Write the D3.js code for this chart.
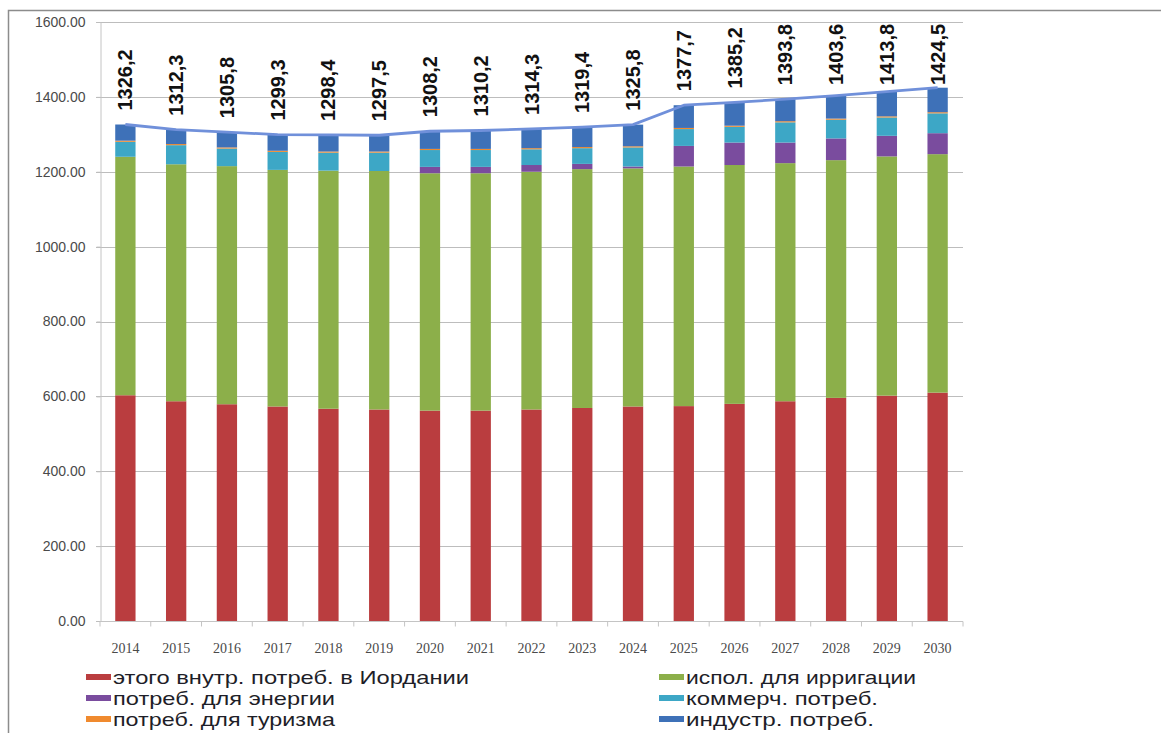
<!DOCTYPE html>
<html>
<head>
<meta charset="utf-8">
<script src="https://cdn.jsdelivr.net/npm/d3@7"></script>
<style>
  html, body { margin: 0; padding: 0; background: #fff; }
  svg { display: block; }
</style>
</head>
<body>
<svg id="chart" width="1161" height="733"></svg>
<script>
// Water demand in Jordan by sector, 2014–2030 (million m³)
const years = ["2014","2015","2016","2017","2018","2019","2020","2021","2022","2023","2024","2025","2026","2027","2028","2029","2030"];

const domestic   = [603, 587, 579, 573, 567, 565, 562, 562, 565, 569, 573, 574, 580, 587, 596, 602, 610];
const irrigation = [637, 633, 636, 632, 636, 637, 634, 634, 635, 638, 636, 640, 638, 636, 635, 639, 637];
const energy     = [0, 0, 0, 0, 0, 0, 17, 17, 18, 14, 5, 55, 60, 55, 58, 55, 56];
const commercial = [40, 51, 47, 48, 48, 49, 45, 45, 42, 42, 51, 45, 42, 54, 50, 49, 53];
const tourism    = [3, 3, 3, 3, 3, 3, 3, 3, 3, 3, 3, 3, 3, 3, 3, 3, 3];
const industrial = [43.2, 38.3, 40.8, 43.3, 44.4, 43.5, 47.2, 49.2, 51.3, 53.4, 57.8, 60.7, 62.2, 58.8, 61.6, 65.8, 65.5];
const totals     = [1326.2, 1312.3, 1305.8, 1299.3, 1298.4, 1297.5, 1308.2, 1310.2, 1314.3, 1319.4, 1325.8, 1377.7, 1385.2, 1393.8, 1403.6, 1413.8, 1424.5];

const yTicks = [0, 200, 400, 600, 800, 1000, 1200, 1400, 1600];

const seriesKeys   = ["domestic", "irrigation", "energy", "commercial", "tourism", "industrial"];
const seriesNames  = {
  domestic:   "этого внутр. потреб. в Иордании",
  irrigation: "испол. для ирригации",
  energy:     "потреб. для энергии",
  commercial: "коммерч. потреб.",
  tourism:    "потреб. для туризма",
  industrial: "индустр. потреб."
};
const seriesColors = {
  domestic:   "#BA3D3F",
  irrigation: "#8CAF4A",
  energy:     "#7A4C9E",
  commercial: "#3DA7C6",
  tourism:    "#F08A2E",
  industrial: "#3E71B8"
};

const rows = years.map((yr, i) => ({
  year: yr,
  domestic: domestic[i],
  irrigation: irrigation[i],
  energy: energy[i],
  commercial: commercial[i],
  tourism: tourism[i],
  industrial: industrial[i],
  total: totals[i]
}));

const svg = d3.select("#chart");

// outer frame
svg.append("rect")
  .attr("x", 8.5).attr("y", 10.5)
  .attr("width", 1300).attr("height", 900)
  .attr("fill", "none").attr("stroke", "#8c8c8c").attr("stroke-width", 1.5);

const plot = { left: 100, right: 963, top: 22, bottom: 621 };

const x = d3.scaleBand()
  .domain(years)
  .range([plot.left, plot.right])
  .paddingInner(0.6)
  .paddingOuter(0.3);

const y = d3.scaleLinear()
  .domain([0, 1600])
  .range([plot.bottom, plot.top]);

// horizontal grid lines
svg.append("g")
  .selectAll("line")
  .data(yTicks)
  .join("line")
  .attr("x1", plot.left - 4).attr("x2", plot.right)
  .attr("y1", d => Math.round(y(d)) + 0.5).attr("y2", d => Math.round(y(d)) + 0.5)
  .attr("stroke", "#bdbdbd").attr("stroke-width", 1);

// y axis
const yAxis = svg.append("g")
  .attr("transform", `translate(${plot.left + 0.5},0)`)
  .call(d3.axisLeft(y).tickValues(yTicks).tickFormat(d3.format(".2f")).tickSize(4).tickPadding(11));
yAxis.select(".domain").attr("stroke", "#c4c4c4");
yAxis.selectAll(".tick line").attr("stroke", "#bdbdbd");
yAxis.selectAll(".tick text")
  .attr("fill", "#4a4a4a")
  .style("font-family", "Arial, 'Liberation Sans', sans-serif")
  .style("font-size", "14px");

// stacked bars
const stack = d3.stack().keys(seriesKeys);
const layers = stack(rows);

svg.append("g")
  .selectAll("g")
  .data(layers)
  .join("g")
  .attr("fill", d => seriesColors[d.key])
  .selectAll("rect")
  .data(d => d)
  .join("rect")
  .attr("x", d => x(d.data.year))
  .attr("width", x.bandwidth())
  .attr("y", d => y(d[1]))
  .attr("height", d => Math.max(0, y(d[0]) - y(d[1])));

// x axis with ticks between categories
const xAxisG = svg.append("g").attr("transform", `translate(0,${plot.bottom + 0.5})`);
xAxisG.append("line")
  .attr("x1", plot.left).attr("x2", plot.right)
  .attr("stroke", "#c4c4c4");
xAxisG.selectAll("line.tk")
  .data(d3.range(years.length + 1))
  .join("line")
  .attr("class", "tk")
  .attr("x1", i => plot.left + i * x.step())
  .attr("x2", i => plot.left + i * x.step())
  .attr("y1", 0).attr("y2", 5)
  .attr("stroke", "#c4c4c4");
xAxisG.selectAll("text")
  .data(years)
  .join("text")
  .attr("x", d => x(d) + x.bandwidth() / 2)
  .attr("y", 31)
  .attr("text-anchor", "middle")
  .attr("fill", "#4a4a4a")
  .style("font-family", "'Liberation Serif', 'Times New Roman', serif")
  .style("font-size", "14px")
  .text(d => d);

// total line
const line = d3.line()
  .x(d => x(d.year) + x.bandwidth() / 2)
  .y(d => y(d.total));
svg.append("path")
  .datum(rows)
  .attr("d", line)
  .attr("fill", "none")
  .attr("stroke", "#7090DA")
  .attr("stroke-width", 2.8)
  .attr("stroke-linejoin", "round");

// rotated total labels; pushed down when they would leave the plot top
const fmt = v => d3.format(".1f")(v).replace(".", ",");
svg.append("g")
  .selectAll("text")
  .data(rows)
  .join("text")
  .attr("transform", d => {
    const cx = x(d.year) + x.bandwidth() / 2 + 7;
    const end = Math.max(y(d.total) - 14, 85);
    return `translate(${cx},${end}) rotate(-90)`;
  })
  .attr("text-anchor", "start")
  .attr("fill", "#111")
  .style("font-family", "Arial, 'Liberation Sans', sans-serif")
  .style("font-weight", "bold")
  .style("font-size", "20px")
  .text(d => fmt(d.total));

// legend
const legendItems = [
  { key: "domestic",   col: 0, row: 0, w: 356 },
  { key: "energy",     col: 0, row: 1, w: 222 },
  { key: "tourism",    col: 0, row: 2, w: 222 },
  { key: "irrigation", col: 1, row: 0, w: 230 },
  { key: "commercial", col: 1, row: 1, w: 192 },
  { key: "industrial", col: 1, row: 2, w: 188 }
];
const colX = [86, 659];
const rowY = [677, 698, 719];
const legend = svg.append("g")
  .selectAll("g")
  .data(legendItems)
  .join("g")
  .attr("transform", d => `translate(${colX[d.col]},${rowY[d.row]})`);
legend.append("rect")
  .attr("x", 0).attr("y", -3)
  .attr("width", 25).attr("height", 6)
  .attr("fill", d => seriesColors[d.key]);
legend.append("text")
  .attr("x", 27).attr("y", 7)
  .attr("fill", "#1e1e28")
  .attr("textLength", d => d.w)
  .attr("lengthAdjust", "spacingAndGlyphs")
  .style("font-family", "Arial, 'Liberation Sans', sans-serif")
  .style("font-size", "19px")
  .text(d => seriesNames[d.key]);
</script>
</body>
</html>
